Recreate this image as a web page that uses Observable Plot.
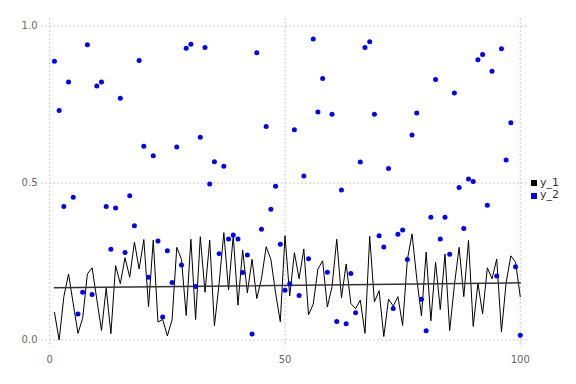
<!DOCTYPE html>
<html>
<head>
<meta charset="utf-8">
<script src="https://cdn.jsdelivr.net/npm/d3@7"></script>
<script src="https://cdn.jsdelivr.net/npm/@observablehq/plot@0.6"></script>
<style>
  body { margin: 0; background: #fff; font-family: "DejaVu Sans", sans-serif; }
  #wrap { position: relative; width: 576px; height: 384px; }
  #legend { position: absolute; left: 531px; top: 177px; font-size: 11px; color: #333; line-height: 12.4px; }
  .item { display: flex; align-items: center; height: 12.4px; }
  .sw { width: 6px; height: 6px; margin-right: 3px; flex: none; }
</style>
</head>
<body>
<div id="wrap"><div id="legend"></div></div>
<script>
const seriesNames = ["y_1", "y_2"];
const seriesColors = ["#000000", "#0000ff"];

const xIndex = Array.from({length: 100}, (_, k) => k + 1);

const y1 = [
  0.088, 0.000, 0.138, 0.210, 0.115, 0.021, 0.069, 0.210, 0.230, 0.130,
  0.030, 0.165, 0.020, 0.237, 0.179, 0.262, 0.200, 0.312, 0.226, 0.320,
  0.106, 0.318, 0.057, 0.065, 0.013, 0.064, 0.295, 0.257, 0.078, 0.321,
  0.065, 0.329, 0.152, 0.318, 0.045, 0.180, 0.342, 0.159, 0.333, 0.111,
  0.287, 0.150, 0.257, 0.132, 0.195, 0.297, 0.257, 0.150, 0.058, 0.332,
  0.140, 0.278, 0.195, 0.290, 0.080, 0.114, 0.226, 0.252, 0.105, 0.170,
  0.321, 0.134, 0.242, 0.116, 0.100, 0.127, 0.021, 0.330, 0.121, 0.157,
  0.011, 0.130, 0.108, 0.138, 0.046, 0.255, 0.338, 0.196, 0.077, 0.280,
  0.061, 0.248, 0.097, 0.274, 0.030, 0.175, 0.295, 0.138, 0.317, 0.043,
  0.181, 0.083, 0.230, 0.195, 0.258, 0.025, 0.183, 0.268, 0.248, 0.138
];

const y2 = [
  0.888, 0.731, 0.425, 0.822, 0.455, 0.083, 0.152, 0.940, 0.145, 0.809,
  0.822, 0.425, 0.289, 0.420, 0.770, 0.279, 0.459, 0.364, 0.890, 0.617,
  0.200, 0.587, 0.315, 0.073, 0.284, 0.183, 0.615, 0.239, 0.929, 0.942,
  0.170, 0.646, 0.932, 0.497, 0.568, 0.275, 0.553, 0.322, 0.334, 0.322,
  0.215, 0.271, 0.019, 0.915, 0.353, 0.680, 0.416, 0.490, 0.305, 0.158,
  0.179, 0.670, 0.142, 0.522, 0.259, 0.959, 0.726, 0.833, 0.216, 0.719,
  0.059, 0.478, 0.052, 0.212, 0.087, 0.567, 0.932, 0.950, 0.719, 0.332,
  0.296, 0.546, 0.100, 0.337, 0.350, 0.256, 0.653, 0.723, 0.130, 0.029,
  0.391, 0.830, 0.322, 0.391, 0.273, 0.787, 0.486, 0.355, 0.513, 0.505,
  0.893, 0.909, 0.429, 0.856, 0.204, 0.928, 0.573, 0.692, 0.233, 0.015
];

// straight trend line across the y_1 series (endpoints)
const trendX = [1, 100];
const trendY = [0.166, 0.182];

const xTicks = [0, 50, 100];
const yTicks = [0, 0.5, 1];

const data1 = xIndex.map((x, k) => ({x, y: y1[k]}));
const data2 = xIndex.map((x, k) => ({x, y: y2[k]}));
const trend = trendX.map((x, k) => ({x, y: trendY[k]}));

const gridStyle = {stroke: "#c8c8dc", strokeOpacity: 1, strokeWidth: 1, strokeDasharray: "2,2"};

const chart = Plot.plot({
  width: 576,
  height: 384,
  marginLeft: 41,
  marginRight: 48,
  marginTop: 18,
  marginBottom: 37,
  style: {fontFamily: "DejaVu Sans, sans-serif", fontSize: "10px", color: "#666", background: "white"},
  x: {domain: [-1.75, 101.75], label: null},
  y: {domain: [-0.024, 1.024], label: null},
  marks: [
    Plot.gridX(xTicks, gridStyle),
    Plot.gridY(yTicks, gridStyle),
    Plot.axisX(xTicks, {tickSize: 0, tickPadding: 8, label: null, fill: "#666"}),
    Plot.axisY(yTicks, {tickSize: 0, tickPadding: 4, label: null, fill: "#666", tickFormat: d => d.toFixed(1)}),
    Plot.line(data1, {x: "x", y: "y", stroke: seriesColors[0], strokeWidth: 1}),
    Plot.line(trend, {x: "x", y: "y", stroke: "#333", strokeWidth: 1.5}),
    Plot.dot(data2, {x: "x", y: "y", fill: seriesColors[1], r: 2.5, stroke: "none"})
  ]
});

const wrap = document.getElementById("wrap");
wrap.insertBefore(chart, wrap.firstChild);

const legend = document.getElementById("legend");
seriesNames.forEach((name, k) => {
  const item = document.createElement("div");
  item.className = "item";
  const sw = document.createElement("span");
  sw.className = "sw";
  sw.style.background = seriesColors[k];
  const label = document.createElement("span");
  label.textContent = name;
  item.appendChild(sw);
  item.appendChild(label);
  legend.appendChild(item);
});
</script>
</body>
</html>
